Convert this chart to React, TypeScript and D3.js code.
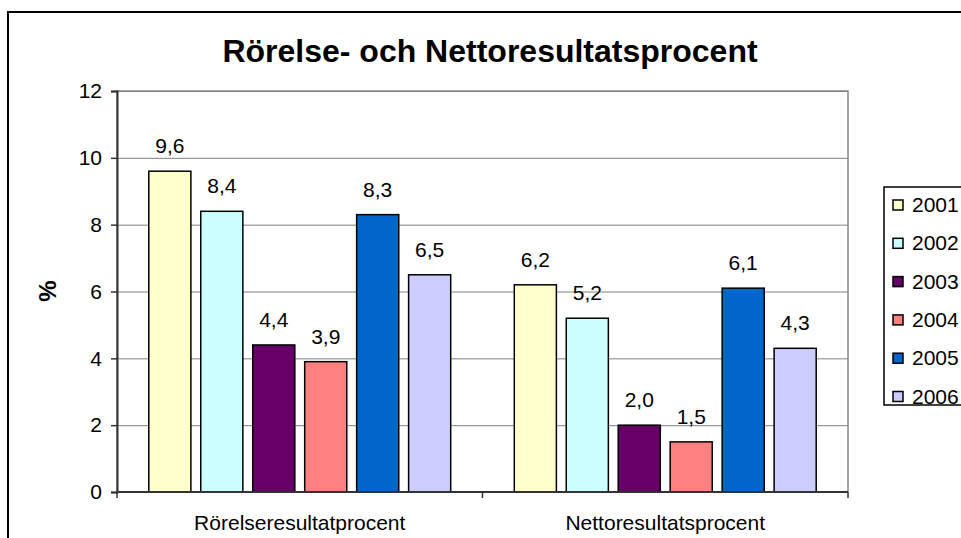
import { useRef, useEffect } from 'react';
import * as d3 from 'd3';

const categories = ['Rörelseresultatprocent', 'Nettoresultatsprocent'];
const years = ['2001', '2002', '2003', '2004', '2005', '2006'];
const colors = ['#FFFFCC', '#CCFFFF', '#660066', '#FF8080', '#0066CC', '#CCCCFF'];
const rorelse = [9.6, 8.4, 4.4, 3.9, 8.3, 6.5];
const netto = [6.2, 5.2, 2.0, 1.5, 6.1, 4.3];
const yTicks = [0, 2, 4, 6, 8, 10, 12];

const font = 'Liberation Sans, Arial, sans-serif';
const fs = 21;

export default function App() {
  const svgRef = useRef<SVGSVGElement>(null);

  const width = 961,
    height = 538,
    marginTop = 91,
    marginLeft = 117,
    plotRight = 848,
    plotBottom = 492;

  const x0 = d3
    .scaleBand()
    .domain(categories)
    .range([marginLeft, plotRight])
    .paddingInner(0.174)
    .paddingOuter(0.087);

  const x1 = d3
    .scaleBand()
    .domain(years)
    .range([0, x0.bandwidth()])
    .paddingInner(0.19);

  const y = d3.scaleLinear().domain([0, 12]).range([plotBottom, marginTop]);

  const color = d3.scaleOrdinal<string>().domain(years).range(colors);

  const rows = [rorelse, netto].flatMap((vals, ci) =>
    vals.map((v, i) => ({ cat: categories[ci], year: years[i], value: v }))
  );

  useEffect(() => {
    const svg = d3.select(svgRef.current);
    svg.selectAll('*').remove();

    // outer chart border
    svg
      .append('rect')
      .attr('x', 8)
      .attr('y', 12)
      .attr('width', 1000)
      .attr('height', 600)
      .attr('fill', 'white')
      .attr('stroke', '#000')
      .attr('stroke-width', 2);

    svg
      .append('text')
      .attr('x', 490)
      .attr('y', 62)
      .attr('text-anchor', 'middle')
      .attr('font-family', font)
      .attr('font-weight', 'bold')
      .attr('font-size', 32)
      .text('Rörelse- och Nettoresultatsprocent');

    // plot area frame
    svg
      .append('rect')
      .attr('x', marginLeft)
      .attr('y', marginTop)
      .attr('width', plotRight - marginLeft)
      .attr('height', plotBottom - marginTop)
      .attr('fill', 'white')
      .attr('stroke', '#888')
      .attr('stroke-width', 1.5);

    // gridlines
    svg
      .append('g')
      .selectAll('line')
      .data(yTicks.filter((t) => t > 0))
      .join('line')
      .attr('x1', marginLeft)
      .attr('x2', plotRight)
      .attr('y1', (d) => y(d) + 0.5)
      .attr('y2', (d) => y(d) + 0.5)
      .attr('stroke', '#808080')
      .attr('stroke-width', 1);

    // bars
    svg
      .append('g')
      .selectAll('rect')
      .data(rows)
      .join('rect')
      .attr('x', (d) => x0(d.cat)! + x1(d.year)!)
      .attr('y', (d) => y(d.value))
      .attr('width', x1.bandwidth())
      .attr('height', (d) => y(0) - y(d.value))
      .attr('fill', (d) => color(d.year))
      .attr('stroke', '#000')
      .attr('stroke-width', 1.5);

    // value labels
    svg
      .append('g')
      .selectAll('text')
      .data(rows)
      .join('text')
      .attr('x', (d) => x0(d.cat)! + x1(d.year)! + x1.bandwidth() / 2)
      .attr('y', (d) => y(d.value) - 18)
      .attr('text-anchor', 'middle')
      .attr('font-family', font)
      .attr('font-size', fs)
      .text((d) => d3.format('.1f')(d.value).replace('.', ','));

    // y axis
    const gy = svg.append('g').attr('transform', `translate(${marginLeft},0)`);
    gy.call(
      d3
        .axisLeft(y)
        .tickValues(yTicks)
        .tickSize(6)
        .tickPadding(9)
        .tickFormat((d) => String(d))
    );
    gy.select('.domain').attr('stroke', '#333').attr('stroke-width', 2);
    gy.selectAll('.tick line').attr('stroke', '#333').attr('stroke-width', 1.5);
    gy.selectAll('.tick text')
      .attr('font-family', font)
      .attr('font-size', fs)
      .attr('fill', '#000');

    // x axis
    const gx = svg.append('g');
    gx.append('line')
      .attr('x1', marginLeft)
      .attr('x2', plotRight)
      .attr('y1', plotBottom)
      .attr('y2', plotBottom)
      .attr('stroke', '#333')
      .attr('stroke-width', 2);
    const step = x0.step();
    gx.selectAll('line.tk')
      .data([0, 1, 2])
      .join('line')
      .attr('class', 'tk')
      .attr('x1', (i) => marginLeft + i * step)
      .attr('x2', (i) => marginLeft + i * step)
      .attr('y1', plotBottom)
      .attr('y2', plotBottom + 6)
      .attr('stroke', '#333')
      .attr('stroke-width', 1.5);
    gx.selectAll('text')
      .data(categories)
      .join('text')
      .attr('x', (d) => x0(d)! + x0.bandwidth() / 2)
      .attr('y', 530)
      .attr('text-anchor', 'middle')
      .attr('font-family', font)
      .attr('font-size', fs)
      .text((d) => d);

    // y title
    svg
      .append('text')
      .attr('transform', 'translate(56,291) rotate(-90)')
      .attr('text-anchor', 'middle')
      .attr('font-family', font)
      .attr('font-weight', 'bold')
      .attr('font-size', 24)
      .text('%');

    // legend
    const lg = svg.append('g');
    lg.append('rect')
      .attr('x', 884)
      .attr('y', 187)
      .attr('width', 100)
      .attr('height', 218)
      .attr('fill', 'white')
      .attr('stroke', '#000')
      .attr('stroke-width', 1.5);
    const items = lg
      .selectAll('g')
      .data(years)
      .join('g')
      .attr('transform', (d, i) => `translate(0,${205 + i * 38.3})`);
    items
      .append('rect')
      .attr('x', 893)
      .attr('y', -5)
      .attr('width', 10)
      .attr('height', 10)
      .attr('fill', (d) => color(d))
      .attr('stroke', '#000')
      .attr('stroke-width', 1.5);
    items
      .append('text')
      .attr('x', 912)
      .attr('y', 7)
      .attr('font-family', font)
      .attr('font-size', fs)
      .text((d) => d);
  }, []);

  return (
    <svg
      ref={svgRef}
      width={width}
      height={height}
      style={{ position: 'absolute', left: 0, top: 0, background: 'white' }}
    />
  );
}
